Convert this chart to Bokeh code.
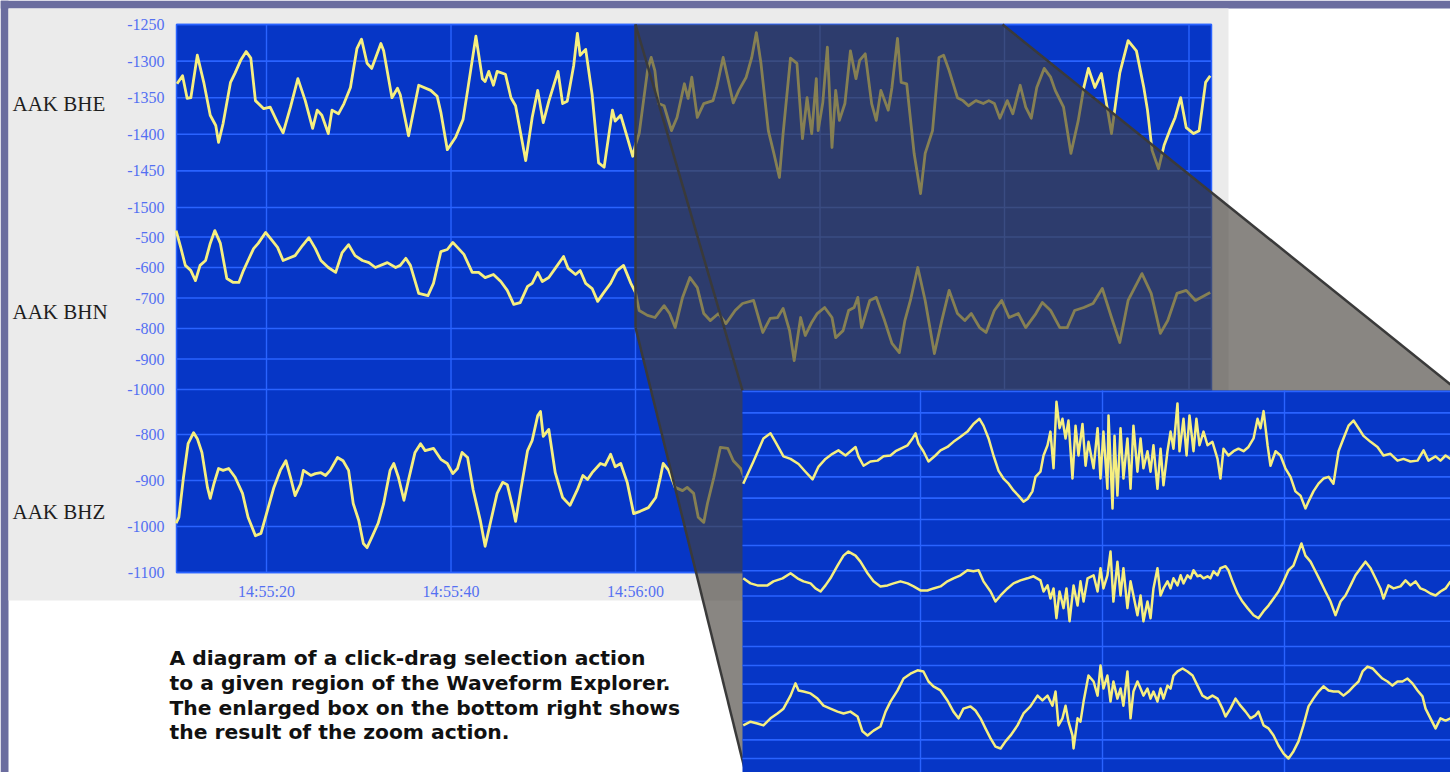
from bokeh.plotting import figure
from bokeh.models import Range1d, LinearAxis, FixedTicker
from bokeh.core.properties import value
from bokeh.embed import file_html
from bokeh.resources import INLINE

# ---------------------------------------------------------------- data
channel_names = ["AAK BHE", "AAK BHN", "AAK BHZ"]

# time is in seconds after 14:55:00
time_tick_secs = [20, 40, 60]
time_tick_labels = ["14:55:20", "14:55:40", "14:56:00"]
time_grid_secs = [20, 40, 60, 80, 100, 120]

bhe_ticks = [-1250, -1300, -1350, -1400, -1450, -1500]
bhn_ticks = [-500, -600, -700, -800, -900, -1000]
bhz_ticks = [-800, -900, -1000, -1100]

bhe_t = [10.3, 10.9, 11.4, 11.8, 12.5, 13.2, 13.9, 14.5, 14.8, 15.3,
         16.1, 16.6, 17.2, 17.8, 18.3, 18.8, 19.7, 20.4, 21.2, 21.8,
         22.6, 23.4, 24.2, 25.0, 25.5, 26.0, 26.7, 27.1, 27.8, 28.4,
         29.1, 29.8, 30.3, 30.9, 31.4, 32.4, 32.7, 33.6, 34.2, 34.5,
         35.4, 36.5, 37.8, 38.5, 38.9, 39.6, 40.5, 41.3, 41.8, 42.7,
         43.4, 43.7, 44.1, 44.6, 45.0, 45.9, 46.5, 47.0, 48.1, 48.8,
         49.4, 50.0, 50.6, 51.6, 52.1, 52.6, 53.3, 53.7, 54.0, 54.6,
         55.3, 56.0, 56.6, 57.5, 57.8, 58.4, 59.1, 59.7, 60.0,
         60.4, 61.3, 61.7, 62.1, 62.5, 63.1, 63.9, 64.5, 65.3, 65.7,
         66.1, 66.7, 67.4, 68.4, 68.8, 69.5, 70.6, 71.2, 72.0, 72.6,
         73.1, 73.6, 74.4, 75.0, 75.6, 76.0, 76.8, 77.5, 78.1, 78.6,
         79.1, 79.6, 79.8, 80.3, 80.8, 81.3, 81.7, 82.1, 82.7, 83.3,
         83.9, 84.3, 84.9, 85.6, 86.1, 86.6, 87.4, 87.8, 88.4, 88.8,
         89.4, 90.2, 90.9, 91.4, 92.2, 92.9, 93.4, 94.0, 94.9, 95.5,
         96.1, 96.9, 97.7, 98.3, 98.9, 99.5, 100.3, 100.9, 101.7, 102.3,
         102.9, 103.5, 104.3, 105.0, 105.5, 106.4, 107.2, 108.0, 108.6, 109.1,
         109.8, 110.5, 111.0, 111.6, 112.5, 113.4, 114.3, 115.1, 115.5, 116.0,
         116.7, 117.3, 117.9, 118.5, 119.1, 119.7, 120.5, 121.1, 121.8, 122.3]
bhe_v = [-1331, -1320, -1351, -1350, -1292, -1329, -1374, -1388, -1411, -1385,
         -1329, -1316, -1299, -1287, -1296, -1354, -1365, -1363, -1384, -1398,
         -1363, -1324, -1354, -1392, -1367, -1374, -1399, -1367, -1372, -1358,
         -1336, -1283, -1270, -1303, -1310, -1276, -1286, -1350, -1337, -1346,
         -1402, -1333, -1340, -1348, -1370, -1421, -1404, -1380, -1340, -1266,
         -1324, -1328, -1314, -1333, -1314, -1318, -1350, -1361, -1436, -1377,
         -1340, -1384, -1355, -1314, -1358, -1355, -1306, -1262, -1292, -1284,
         -1346, -1439, -1445, -1367, -1382, -1374, -1404, -1430, -1414,
         -1399, -1313, -1295, -1313, -1358, -1361, -1395, -1377, -1331, -1351,
         -1322, -1377, -1358, -1354, -1336, -1295, -1357, -1340, -1322, -1295,
         -1261, -1303, -1395, -1426, -1459, -1399, -1296, -1303, -1406, -1350,
         -1399, -1324, -1395, -1357, -1281, -1418, -1340, -1381, -1358, -1286,
         -1324, -1299, -1290, -1358, -1381, -1340, -1367, -1336, -1269, -1329,
         -1331, -1426, -1481, -1426, -1395, -1295, -1292, -1313, -1350, -1354,
         -1361, -1354, -1358, -1354, -1358, -1378, -1354, -1372, -1333, -1363,
         -1378, -1336, -1310, -1322, -1340, -1363, -1426, -1381, -1336, -1310,
         -1336, -1317, -1354, -1399, -1316, -1272, -1286, -1336, -1367, -1422,
         -1447, -1415, -1395, -1377, -1350, -1391, -1399, -1395, -1329, -1320]

bhn_t = [10.2, 10.7, 11.2, 11.8, 12.3, 12.8, 13.4, 13.9, 14.4, 15.0,
         15.7, 16.4, 17.0, 17.5, 18.0, 18.6, 19.1, 19.9, 20.6, 21.2,
         21.8, 22.6, 23.1, 23.9, 24.6, 25.3, 25.9, 26.7, 27.5, 28.2,
         28.9, 29.6, 30.4, 31.1, 31.8, 33.1, 34.0, 34.5,
         35.1, 35.6, 36.5, 37.5, 38.1, 38.9, 39.6, 40.2, 40.7, 41.4,
         42.3, 43.0, 43.7, 44.6, 45.4, 46.1, 46.8, 47.5, 48.3, 48.8,
         49.4, 49.9, 50.6, 51.3, 52.2, 52.7, 53.5, 54.0, 54.6, 55.3,
         55.9, 56.5, 57.3, 58.0, 58.7, 59.5, 60.0,
         60.4, 61.3, 62.1, 63.1, 63.7, 64.3, 65.1, 65.9, 66.7, 67.4,
         68.1, 69.0, 69.8, 70.8, 71.6, 72.8, 73.8, 74.6, 75.4, 76.0,
         76.7, 77.2, 77.9, 78.4, 79.1, 79.7, 80.5, 81.3, 81.7, 82.5,
         83.1, 83.7, 84.1, 84.5, 85.4, 86.1, 87.0, 87.8, 88.6, 89.2,
         89.8, 90.6, 91.4, 92.4, 93.2, 94.0, 94.9, 95.7, 96.4, 97.3,
         98.0, 98.9, 99.7, 100.5, 101.5, 102.3, 103.4, 104.1, 105.0, 106.0,
         106.8, 107.6, 108.6, 109.6, 110.6, 111.6, 112.5, 113.4, 114.9, 115.9,
         116.9, 117.7, 118.7, 119.7, 120.7, 121.7, 122.3]
bhn_v = [-479, -534, -593, -610, -643, -593, -577, -521, -479, -521,
         -636, -649, -649, -610, -577, -538, -521, -485, -511, -534,
         -577, -567, -561, -528, -502, -538, -577, -600, -616, -551,
         -525, -561, -577, -584, -600, -584, -600, -593,
         -570, -593, -685, -692, -652, -548, -541, -518, -534, -557,
         -616, -616, -633, -623, -646, -675, -721, -715, -662, -652,
         -616, -646, -633, -603, -564, -603, -623, -610, -652, -669,
         -711, -685, -652, -610, -593, -652, -682,
         -741, -757, -764, -725, -751, -797, -698, -633, -666, -751,
         -774, -751, -784, -741, -718, -708, -813, -767, -764, -734,
         -807, -905, -764, -823, -780, -751, -731, -764, -830, -807,
         -741, -731, -698, -797, -708, -698, -774, -849, -879, -774,
         -708, -600, -708, -882, -774, -675, -751, -774, -751, -797,
         -813, -741, -708, -764, -751, -797, -751, -715, -741, -797,
         -797, -741, -731, -718, -669, -764, -846, -708, -620, -685,
         -816, -774, -685, -675, -708, -692, -682]

bhz_t = [10.2, 10.5, 11.0, 11.5, 12.1, 12.5, 13.0, 13.6, 13.9, 14.3,
         14.8, 15.3, 15.9, 16.6, 17.4, 18.0, 18.8, 19.4, 20.1, 20.8,
         21.5, 22.1, 22.6, 23.1, 23.7, 24.0, 24.8, 25.3, 25.9, 26.4,
         26.9, 27.7, 28.3, 28.9, 29.4, 30.0, 30.5, 30.9, 31.5, 32.1,
         32.7, 33.4, 33.8, 34.3,
         34.9, 35.4, 36.1, 36.7, 37.2, 38.1, 38.9, 39.6, 40.2, 40.7,
         41.2, 41.8, 42.4, 43.2, 43.7, 44.3, 45.0, 45.6, 46.1, 46.7,
         47.0, 47.5, 48.3, 48.8, 49.4, 49.7, 50.0, 50.6, 51.3, 52.1,
         52.9, 53.7, 54.3, 54.8, 55.3, 56.2, 56.7, 57.3, 57.8, 58.4,
         59.1, 59.8, 60.5, 61.4,
         62.2, 62.7, 63.0, 63.6, 64.3, 65.1, 65.6, 66.3, 66.8, 67.4,
         67.8, 68.5, 69.2, 70.0, 70.6, 71.4, 71.9]
bhz_v = [-993, -980, -893, -820, -796, -809, -839, -915, -939, -907,
         -874, -878, -874, -893, -928, -980, -1020, -1015, -965, -915,
         -878, -857, -893, -933, -907, -878, -889, -885, -883, -889,
         -878, -850, -857, -878, -950, -987, -1037, -1046, -1020, -993,
         -950, -878, -863, -893,
         -943, -898, -839, -820, -835, -830, -854, -863, -885, -874,
         -839, -850, -920, -989, -1043, -989, -928, -904, -909, -959,
         -989, -928, -835, -813, -759, -750, -804, -789, -883, -937,
         -954, -920, -889, -898, -883, -863, -867, -843, -870, -863,
         -904, -972, -967, -959,
         -937, -893, -863, -878, -915, -922, -915, -928, -980, -991,
         -950, -893, -828, -830, -857, -874, -900]

# enlarged view of the selected interval
zoom_grid_secs = [70, 80, 90]
zoom_bhe_ticks = [-1250, -1275, -1300, -1325, -1350, -1375, -1400]
zoom_bhn_ticks = [-600, -650, -700, -750, -800]
zoom_bhz_ticks = [-800, -850, -900, -950, -1000, -1050]

zoom_bhe_t = [60.26, 60.82, 61.37, 61.76, 62.03, 62.47, 62.86, 63.30, 63.68, 64.07,
              64.40, 64.78, 65.16, 65.49, 65.88, 66.43, 66.59, 66.87, 67.25, 67.64,
              67.97, 68.35, 68.63, 69.29, 69.56, 69.73, 69.89, 70.16, 70.44, 70.82,
              71.10, 71.48, 71.81, 72.20, 72.58, 72.91, 73.24, 73.46, 73.74, 74.01,
              74.29, 74.56, 74.84, 75.11, 75.38, 75.66, 75.88, 76.15, 76.32, 76.59,
              76.76, 76.98, 77.14, 77.31, 77.47, 77.64, 77.80, 77.97, 78.13, 78.35,
              78.52, 78.68, 78.90, 79.07, 79.23,
              79.51, 79.73, 79.89, 80.05, 80.27, 80.33, 80.55, 80.66, 80.82, 80.99,
              81.15, 81.37, 81.54, 81.70, 81.92, 82.09, 82.25, 82.47, 82.64, 82.80,
              83.02, 83.19, 83.35, 83.57, 83.74, 83.90, 84.12, 84.23, 84.45, 84.62,
              84.78, 85.00, 85.16, 85.33, 85.55, 85.77, 86.04, 86.32, 86.48, 86.65,
              86.92, 87.20, 87.47, 87.75, 88.02, 88.30, 88.52, 88.68, 88.85, 89.07,
              89.23, 89.51, 89.78, 90.05, 90.33, 90.60, 90.88, 91.15, 91.32, 91.59,
              91.87, 92.14, 92.42, 92.69, 92.97, 93.24, 93.52, 93.79, 94.07, 94.34,
              94.73, 95.11, 95.44, 95.82, 96.21, 96.54, 96.92, 97.31, 97.64, 97.91,
              98.30, 98.57, 98.85, 99.12]
zoom_bhe_v = [-1358, -1332, -1305, -1299, -1309, -1326, -1329, -1335, -1344, -1353,
              -1338, -1329, -1323, -1319, -1325, -1315, -1326, -1337, -1332, -1331,
              -1326, -1325, -1320, -1313, -1305, -1299, -1311, -1320, -1332, -1325,
              -1319, -1315, -1309, -1303, -1297, -1288, -1282, -1290, -1305, -1325,
              -1343, -1352, -1358, -1366, -1372, -1379, -1376, -1367, -1350, -1344,
              -1325, -1313, -1297, -1340, -1262, -1293, -1282, -1305, -1284, -1352,
              -1290, -1325, -1288, -1337, -1309,
              -1340, -1293, -1352, -1297, -1364, -1278, -1387, -1302, -1372, -1293,
              -1352, -1305, -1364, -1290, -1344, -1305, -1340, -1320, -1344, -1313,
              -1364, -1317, -1360, -1320, -1297, -1317, -1264, -1320, -1282, -1325,
              -1278, -1320, -1282, -1313, -1297, -1313, -1309, -1329, -1352, -1317,
              -1325, -1320, -1317, -1320, -1315, -1305, -1282, -1293, -1273, -1313,
              -1337, -1320, -1325, -1340, -1350, -1367, -1372, -1387, -1379, -1367,
              -1358, -1352, -1350, -1358, -1320, -1305, -1290, -1284, -1293, -1302,
              -1309, -1315, -1325, -1323, -1331, -1329, -1332, -1331, -1319, -1331,
              -1326, -1331, -1325, -1329]

zoom_bhn_t = [60.26, 60.66, 61.04, 61.59, 61.92, 62.42, 62.86, 63.24, 63.57, 63.96,
              64.23, 64.51, 64.78, 65.05, 65.44, 65.77, 66.04, 66.43, 66.70, 67.09,
              67.42, 67.80, 68.19, 68.52, 68.90, 69.29, 69.62, 70.00, 70.38, 70.71,
              71.10, 71.48, 71.81, 72.20, 72.58, 72.91, 73.19, 73.46, 73.85, 74.12,
              74.40, 74.78, 75.11, 75.49, 75.88, 76.21, 76.59, 76.76, 76.98, 77.14,
              77.31, 77.47, 77.64, 77.86, 78.02, 78.19, 78.41, 78.63, 78.79, 78.96,
              79.18, 79.51, 79.73, 79.89, 80.05, 80.27, 80.44, 80.60, 80.82, 80.99,
              81.15, 81.37, 81.54, 81.70, 81.92, 82.09, 82.25, 82.47, 82.64, 82.80,
              83.02, 83.19, 83.35, 83.57, 83.74, 83.90, 84.12, 84.29, 84.45, 84.67,
              84.84, 85.00, 85.22, 85.38, 85.55, 85.77, 85.93, 86.10, 86.32, 86.48,
              86.76, 86.92, 87.14, 87.42, 87.69, 87.97, 88.30, 88.57, 88.85, 89.12,
              89.40, 89.67, 89.95, 90.22, 90.49, 90.77, 90.93, 91.15, 91.43, 91.70,
              91.98, 92.25, 92.53, 92.80, 93.08, 93.35, 93.63, 93.90, 94.18, 94.45,
              94.73, 95.00, 95.27, 95.44, 95.71, 95.99, 96.37, 96.65, 96.92, 97.20,
              97.47, 97.75, 98.02, 98.30, 98.57, 98.85, 99.12]
zoom_bhn_v = [-665, -675, -679, -679, -671, -665, -655, -665, -671, -675,
              -685, -691, -679, -665, -640, -620, -612, -620, -632, -655,
              -671, -681, -679, -675, -671, -675, -681, -689, -689, -685,
              -681, -671, -665, -659, -649, -651, -649, -671, -691, -711,
              -699, -685, -675, -669, -665, -661, -669, -691, -679, -705,
              -685, -744, -691, -724, -685, -750, -679, -719, -671, -711,
              -665, -659, -691, -645, -685, -659, -612, -711, -632, -699,
              -645, -724, -671, -699, -738, -699, -750, -711, -744, -685,
              -645, -699, -685, -671, -685, -665, -679, -659, -675, -659,
              -665, -649, -661, -659, -665, -661, -665, -651, -659, -645,
              -641, -649, -671, -695, -711, -724, -738, -744, -730, -719,
              -705, -691, -671, -649, -640, -612, -596, -620, -632, -651,
              -671, -691, -711, -738, -711, -699, -679, -659, -645, -632,
              -645, -665, -685, -705, -679, -685, -681, -669, -679, -671,
              -685, -689, -695, -699, -691, -685, -671]

zoom_bhz_t = [60.26, 60.66, 61.04, 61.37, 61.76, 62.14, 62.47, 62.86, 63.13, 63.30,
              63.57, 63.96, 64.34, 64.67, 65.05, 65.44, 65.77, 66.15, 66.54, 66.81,
              67.09, 67.42, 67.80, 68.08, 68.35, 68.74, 69.07, 69.45, 69.84, 70.16,
              70.44, 70.71, 71.10, 71.48, 71.81, 72.09, 72.36, 72.75, 73.02, 73.30,
              73.57, 73.85, 74.12, 74.40, 74.67, 74.95, 75.33, 75.66, 76.04, 76.43,
              76.70, 76.98, 77.25, 77.42, 77.58, 77.80, 77.97, 78.13, 78.35, 78.41,
              78.63, 78.79, 78.96, 79.23, 79.51, 79.73, 79.89, 80.05, 80.27, 80.44,
              80.60, 80.82, 80.99, 81.15, 81.37, 81.54, 81.70, 81.92, 82.09, 82.25,
              82.47, 82.64, 82.80, 83.02, 83.19, 83.35, 83.57, 83.74, 83.90, 84.12,
              84.40, 84.67, 84.95, 85.22, 85.49, 85.77, 86.04, 86.32, 86.59, 86.76,
              87.03, 87.31, 87.58, 87.86, 88.13, 88.41, 88.57, 88.85, 89.12, 89.40,
              89.67, 89.95, 90.22, 90.49, 90.77, 91.04, 91.32, 91.59, 91.87, 92.14,
              92.42, 92.69, 92.97, 93.24, 93.52, 93.79, 94.07, 94.29, 94.56, 94.84,
              95.11, 95.38, 95.66, 95.93, 96.21, 96.48, 96.76, 97.03, 97.31, 97.58,
              97.75, 98.02, 98.30, 98.57, 98.85, 99.12]
zoom_bhz_v = [-961, -951, -956, -961, -942, -929, -916, -881, -848, -867,
              -870, -875, -889, -908, -916, -924, -929, -924, -937, -977,
              -988, -975, -964, -924, -897, -867, -835, -822, -813, -816,
              -843, -856, -867, -894, -924, -942, -916, -910, -921, -942,
              -969, -996, -1018, -1023, -1004, -988, -961, -929, -910, -881,
              -894, -881, -908, -870, -961, -942, -908, -951, -988, -1023,
              -942, -951, -897, -827, -843, -881, -800, -862, -827, -897,
              -843, -889, -862, -908, -816, -942, -870, -843, -862, -881,
              -862, -889, -870, -897, -862, -889, -854, -862, -827, -816,
              -808, -816, -827, -854, -881, -889, -881, -889, -916, -937,
              -916, -889, -908, -924, -942, -934, -924, -961, -969, -988,
              -1015, -1037, -1050, -1031, -1004, -961, -910, -889, -870, -856,
              -867, -870, -870, -881, -870, -856, -843, -816, -803, -808,
              -822, -835, -843, -854, -843, -843, -835, -848, -867, -883,
              -916, -942, -969, -942, -948, -942]

caption_lines = ["A diagram of a click-drag selection action",
                 "to a given region of the Waveform Explorer.",
                 "The enlarged box on the bottom right shows",
                 "the result of the zoom action."]

# ---------------------------------------------------------------- layout
W, H = 1450, 772
PLOT_L, PLOT_R, PLOT_T, PLOT_B = 176, 1211, 24, 572
PANEL = (8, 1228, 8, 600)
ZOOM_L, ZOOM_T = 742, 390

SLIDE = "#6b6d9f"
PANEL_GREY = "#ebebeb"
BLUE = "#0636c6"
GRID = "#2a63ff"
TRACE = "#f6ef80"
TICK_TEXT = "#5470f2"
SHADE = "#443f39"
EDGE = "#3a3a3a"


def x_span(v_a, x_a, v_b, x_b):
    """Range whose value v_a sits at canvas column x_a and v_b at x_b."""
    k = (v_b - v_a) / (x_b - x_a)
    return Range1d(start=v_a - k * x_a, end=v_a + k * (W - x_a))


def y_span(v_a, y_a, v_b, y_b):
    """Range whose value v_a sits y_a pixels below the top, v_b at y_b."""
    k = (v_b - v_a) / (y_b - y_a)
    return Range1d(start=v_a + k * (H - y_a), end=v_a - k * y_a)


p = figure(width=W, height=H, x_range=Range1d(0, W), y_range=Range1d(H, 0),
           x_axis_type=None, y_axis_type=None, min_border=0,
           output_backend="svg", toolbar_location=None)
p.outline_line_color = None
p.background_fill_color = "white"
p.border_fill_color = "white"

p.extra_x_ranges = {
    "t": x_span(20, 266, 60, 635),
    "tz": x_span(70, 920, 90, 1284),
}
p.extra_y_ranges = {
    "bhe": y_span(-1250, 24, -1500, 207),
    "bhn": y_span(-500, 236.5, -1000, 389),
    "bhz": y_span(-800, 434, -1100, 572),
    "zbhe": y_span(-1250, 391, -1400, 519),
    "zbhn": y_span(-600, 545, -800, 646),
    "zbhz": y_span(-800, 665, -1050, 758),
}

# slide frame, grey panel and plot area
p.quad(left=[0, 0], right=[8, W], top=[0, 0], bottom=[H, 8],
       fill_color=SLIDE, line_color=None, level="image")
p.quad(left=PANEL[0], right=PANEL[1], top=PANEL[2], bottom=PANEL[3],
       fill_color=PANEL_GREY, line_color=None, level="image")
p.quad(left=PLOT_L, right=PLOT_R, top=PLOT_T, bottom=PLOT_B,
       fill_color=BLUE, line_color=GRID, line_width=1.5, level="image")

# grid lines of the main chart
for rng, ticks in (("bhe", bhe_ticks), ("bhn", bhn_ticks), ("bhz", bhz_ticks)):
    p.segment(x0=PLOT_L, x1=PLOT_R, y0=ticks, y1=ticks, y_range_name=rng,
              line_color=GRID, line_width=1.6, level="underlay")
p.segment(x0=time_grid_secs, x1=time_grid_secs, y0=PLOT_T, y1=PLOT_B,
          x_range_name="t", line_color=GRID, line_width=1.4, level="underlay")

# waveforms
for t, v, rng in ((bhe_t, bhe_v, "bhe"), (bhn_t, bhn_v, "bhn"), (bhz_t, bhz_v, "bhz")):
    p.line(t, v, x_range_name="t", y_range_name=rng, line_color=TRACE,
           line_width=2.8, line_join="round")

# amplitude axes, one per channel, pinned to the left edge of the plot
for rng, ticks in (("bhe", bhe_ticks), ("bhn", bhn_ticks), ("bhz", bhz_ticks)):
    ax = LinearAxis(y_range_name=rng, fixed_location=PLOT_L,
                    ticker=FixedTicker(ticks=ticks),
                    major_label_overrides={tk: str(tk) for tk in ticks})
    ax.axis_line_color = None
    ax.major_tick_line_color = None
    ax.minor_tick_line_color = None
    ax.major_label_standoff = 6
    ax.major_label_text_font = "Liberation Serif"
    ax.major_label_text_font_size = "16px"
    ax.major_label_text_color = TICK_TEXT
    p.add_layout(ax, "left")

xax = LinearAxis(x_range_name="t", fixed_location=PLOT_B,
                 ticker=FixedTicker(ticks=time_tick_secs),
                 major_label_overrides=dict(zip(time_tick_secs, time_tick_labels)))
xax.axis_line_color = None
xax.major_tick_line_color = None
xax.minor_tick_line_color = None
xax.major_label_standoff = 4
xax.major_label_text_font = "Liberation Serif"
xax.major_label_text_font_size = "16px"
xax.major_label_text_color = TICK_TEXT
p.add_layout(xax, "below")

# channel names
p.text(x=12, y=[103, 311, 511], text=channel_names,
       text_font=value("Liberation Serif"), text_font_size="21px",
       text_baseline="middle", text_color="#1e1e1e")

# caption
p.text(x=169, y=[657, 682, 707, 731], text=caption_lines,
       text_font=value("DejaVu Sans"), text_font_style="bold",
       text_font_size="20.3px", text_baseline="alphabetic", text_color="#111111")

# shaded selection and its projection onto the enlarged view
p.patch(x=[635, 1002, 1450, 1450, 745, 635], y=[24, 24, 384, 772, 772, 327],
        fill_color=SHADE, fill_alpha=0.63, line_color=None, level="annotation")
p.multi_line(xs=[[635, 635], [635, 742], [635, 745], [1002, 1450]],
             ys=[[24, 327], [24, 390], [327, 772], [24, 384]],
             line_color=EDGE, line_width=2.5, level="annotation")

# enlarged view
p.quad(left=ZOOM_L, right=W + 10, top=ZOOM_T, bottom=H + 10,
       fill_color=BLUE, line_color=None, level="overlay")
for rng, ticks in (("zbhe", zoom_bhe_ticks), ("zbhn", zoom_bhn_ticks), ("zbhz", zoom_bhz_ticks)):
    p.segment(x0=ZOOM_L, x1=W, y0=ticks, y1=ticks, y_range_name=rng,
              line_color=GRID, line_width=1.6, level="overlay")
p.segment(x0=zoom_grid_secs, x1=zoom_grid_secs, y0=ZOOM_T, y1=H,
          x_range_name="tz", line_color=GRID, line_width=1.4, level="overlay")
for t, v, rng in ((zoom_bhe_t, zoom_bhe_v, "zbhe"), (zoom_bhn_t, zoom_bhn_v, "zbhn"),
                  (zoom_bhz_t, zoom_bhz_v, "zbhz")):
    p.line(t, v, x_range_name="tz", y_range_name=rng, line_color=TRACE,
           line_width=2.5, line_join="round", level="overlay")

open("out.html", "w").write(file_html(p, INLINE))
